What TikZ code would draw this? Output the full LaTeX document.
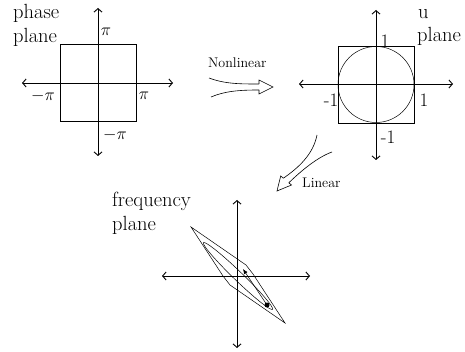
\documentclass[tikz,border=0pt]{standalone}
\usetikzlibrary{arrows.meta}

\tikzset{
  axis/.style={line width=0.9pt, {Straight Barb[length=3.5pt,width=8pt]}-{Straight Barb[length=3.5pt,width=8pt]}},
  frame/.style={line width=0.5pt},
  biglabel/.style={font=\fontsize{20.5}{24}\selectfont, inner sep=0pt, anchor=base west},
  ticklabel/.style={font=\fontsize{19}{21}\selectfont, inner sep=0pt},
  maplabel/.style={font=\fontsize{14}{16}\selectfont, inner sep=0pt, anchor=base west},
  maparrow/.style={line width=0.6pt, line join=miter}
}

\begin{document}
\begin{tikzpicture}[x=1pt,y=-1pt]
  \useasboundingbox (0,0) rectangle (465,352);

  % Phase plane
  \draw[frame] (60,44) rectangle (136,121);
  \coordinate (phase_left) at (22,83);
  \coordinate (phase_right) at (173,83);
  \coordinate (phase_top) at (98,8);
  \coordinate (phase_bottom) at (98,156);
  \draw[axis] (phase_left) -- (phase_right);
  \draw[axis] (phase_top) -- (phase_bottom);
  \node[biglabel] (phase_name) at (13,19) {phase};
  \node[biglabel] (phase_name_b) at (13,43) {plane};
  \node[ticklabel] (phase_pi_top) at (106,32) {$\pi$};
  \node[ticklabel] (phase_pi_left) at (43,96) {$-\pi$};
  \node[ticklabel] (phase_pi_right) at (144,96) {$\pi$};
  \node[ticklabel] (phase_pi_bottom) at (115,135) {$-\pi$};

  % Nonlinear map
  \node[maplabel] (nonlinear) at (208,68) {Nonlinear};
  \coordinate (nl_up) at (259,84);
  \coordinate (nl_down) at (259,90);
  \draw[maparrow] (209,78) .. controls (225,84) and (240,84) .. (nl_up);
  \draw[maparrow] (211,97) .. controls (225,91) and (240,90) .. (nl_down);
  \draw[maparrow] (nl_up) -- (259,80) -- (273,87) -- (259,94) -- (nl_down);

  % u plane
  \draw[frame] (338,46) rectangle (414,123);
  \draw[frame] (376,84.5) circle (38);
  \coordinate (u_left) at (299,84);
  \coordinate (u_right) at (453,84);
  \coordinate (u_top) at (376,10);
  \coordinate (u_bottom) at (376,160);
  \draw[axis] (u_left) -- (u_right);
  \draw[axis] (u_top) -- (u_bottom);
  \node[biglabel] (u_name) at (418,19) {u};
  \node[biglabel] (u_name_b) at (417,42) {plane};
  \node[ticklabel] (u_one_top) at (385,41) {1};
  \node[ticklabel] (u_one_left) at (331,100) {-1};
  \node[ticklabel] (u_one_right) at (424,100) {1};
  \node[ticklabel] (u_one_bottom) at (388,137) {-1};

  % Linear map
  \node[maplabel] (linear) at (302,188) {Linear};
  \coordinate (li_left) at (283.4,178.2);
  \coordinate (li_right) at (288.8,182.8);
  \draw[maparrow] (317,135) .. controls (313,155) and (298,168) .. (li_left);
  \draw[maparrow] (332,152) .. controls (318,157) and (302,170) .. (li_right);
  \draw[maparrow] (li_left) -- (280.7,176) -- (277,191) -- (291.5,185) -- (li_right);

  % Frequency plane
  \coordinate (freq_left) at (162,276);
  \coordinate (freq_right) at (310,276);
  \coordinate (freq_top) at (237,200);
  \coordinate (freq_bottom) at (237,348);
  \draw[axis] (freq_left) -- (freq_right);
  \draw[axis] (freq_top) -- (freq_bottom);
  \node[biglabel] (freq_name) at (112,207) {frequency};
  \node[biglabel] (freq_name_b) at (112,231) {plane};
  \draw[frame] (191,227) -- (246,265) -- (253,274) -- (285,323) -- (230,285) -- (223,276) -- cycle;
  \draw[frame, rotate around={-44:(238,276)}] (238,276) ellipse [x radius=48, y radius=4.5];
  \coordinate (vec_tip) at (243,269);
  \coordinate (vec_end) at (267,305);
  \fill (vec_end) circle (2.5);
  \draw[frame, -{Latex[length=5pt,width=4pt]}] (vec_end) -- (vec_tip);

\end{tikzpicture}
\end{document}
